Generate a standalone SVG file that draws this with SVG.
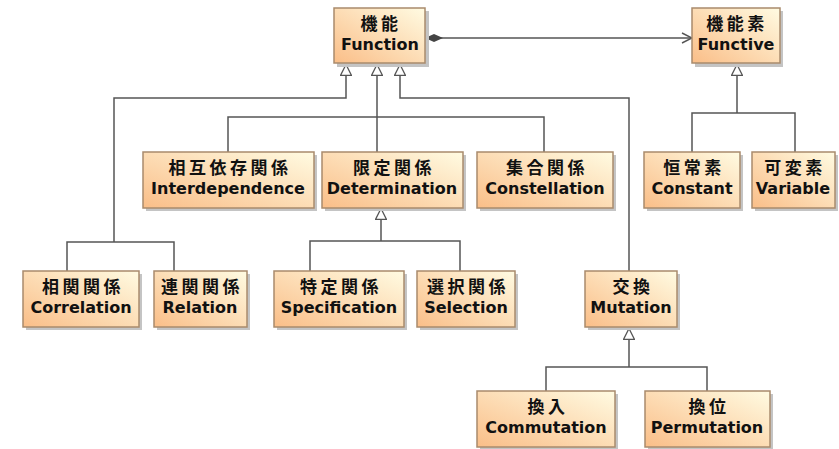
<svg xmlns="http://www.w3.org/2000/svg" width="839" height="449" viewBox="0 0 839 449">
<style>
.box{fill:url(#g);stroke:#A98B6C;stroke-width:1.5}
.sh{fill:#C4C4C4}
.cj{font-family:"Noto Sans CJK JP","Noto Sans CJK SC",sans-serif;font-weight:bold;font-size:17px;letter-spacing:3.5px;text-anchor:middle;fill:#111}
.en{font-family:"DejaVu Sans",sans-serif;font-weight:bold;font-size:16px;text-anchor:middle;fill:#111}
.ln{fill:none;stroke:#555;stroke-width:1.5}
.gen{marker-end:url(#tri)}
</style>
<defs>
<linearGradient id="g" x1="0" y1="1" x2="1" y2="0">
<stop offset="0" stop-color="#FABE88"/>
<stop offset="1" stop-color="#FFFBE2"/>
</linearGradient>
<marker id="tri" viewBox="0 0 12 12" refX="12" refY="6" markerWidth="12" markerHeight="12" markerUnits="userSpaceOnUse" orient="auto">
<path d="M0.5,0.5 L11.5,6 L0.5,11.5 z" fill="#fff" stroke="#555" stroke-width="1.3"/>
</marker>
<marker id="dia" viewBox="0 0 18 10" refX="0" refY="5" markerWidth="18" markerHeight="10" markerUnits="userSpaceOnUse" orient="auto">
<path d="M0,5 L9,1 L18,5 L9,9 z" fill="#444"/>
</marker>
<marker id="arr" viewBox="0 0 12 12" refX="11" refY="6" markerWidth="12" markerHeight="12" markerUnits="userSpaceOnUse" orient="auto">
<path d="M1,1 L11,6 L1,11" fill="none" stroke="#555" stroke-width="1.4"/>
</marker>
</defs>
<rect width="839" height="449" fill="#fff"/>
<g id="connectors">
<path class="ln gen" d="M114,242 V98 H346 V64"/>
<path class="ln" d="M67,271 V242 H174 V271"/>
<path class="ln gen" d="M377,152 V64"/>
<path class="ln" d="M228,152 V117 H544 V152"/>
<path class="ln gen" d="M629,271 V98 H400 V64"/>
<path class="ln gen" d="M737,113 V64"/>
<path class="ln" d="M692,152 V113 H795 V152"/>
<path class="ln gen" d="M381,241 V208"/>
<path class="ln" d="M310,271 V241 H460 V271"/>
<path class="ln gen" d="M629,367 V328"/>
<path class="ln" d="M546,391 V367 H707 V391"/>
<path class="ln" d="M425,38 H692" marker-start="url(#dia)" marker-end="url(#arr)"/>
</g>
<g id="function"><rect class="sh" x="337" y="11" width="92" height="56"/><rect class="box" x="334" y="8" width="91" height="55"/><text class="cj" x="381" y="30">機能</text><text class="en" x="380" y="50">Function</text></g>
<g id="functive"><rect class="sh" x="695" y="11" width="88" height="56"/><rect class="box" x="692" y="8" width="88" height="55"/><text class="cj" x="737" y="30">機能素</text><text class="en" x="736" y="50">Functive</text></g>
<g id="interdependence"><rect class="sh" x="146" y="155" width="171" height="56"/><rect class="box" x="143" y="152" width="171" height="56"/><text class="cj" x="230" y="174">相互依存関係</text><text class="en" x="228" y="194">Interdependence</text></g>
<g id="determination"><rect class="sh" x="325" y="155" width="141" height="56"/><rect class="box" x="322" y="152" width="141" height="56"/><text class="cj" x="394" y="174">限定関係</text><text class="en" x="392" y="194">Determination</text></g>
<g id="constellation"><rect class="sh" x="480" y="155" width="136" height="56"/><rect class="box" x="477" y="152" width="136" height="56"/><text class="cj" x="547" y="174">集合関係</text><text class="en" x="545" y="194">Constellation</text></g>
<g id="constant"><rect class="sh" x="647" y="155" width="96" height="56"/><rect class="box" x="644" y="152" width="96" height="56"/><text class="cj" x="694" y="174">恒常素</text><text class="en" x="692" y="194">Constant</text></g>
<g id="variable"><rect class="sh" x="755" y="155" width="83" height="56"/><rect class="box" x="752" y="152" width="83" height="56"/><text class="cj" x="795" y="174">可変素</text><text class="en" x="793" y="194">Variable</text></g>
<g id="correlation"><rect class="sh" x="26" y="274" width="116" height="56"/><rect class="box" x="23" y="271" width="116" height="56"/><text class="cj" x="83" y="293">相関関係</text><text class="en" x="81" y="313">Correlation</text></g>
<g id="relation"><rect class="sh" x="157" y="274" width="93" height="56"/><rect class="box" x="154" y="271" width="93" height="56"/><text class="cj" x="202" y="293">連関関係</text><text class="en" x="200" y="313">Relation</text></g>
<g id="specification"><rect class="sh" x="277" y="274" width="130" height="56"/><rect class="box" x="274" y="271" width="130" height="56"/><text class="cj" x="341" y="293">特定関係</text><text class="en" x="339" y="313">Specification</text></g>
<g id="selection"><rect class="sh" x="420" y="274" width="98" height="56"/><rect class="box" x="417" y="271" width="98" height="56"/><text class="cj" x="468" y="293">選択関係</text><text class="en" x="466" y="313">Selection</text></g>
<g id="mutation"><rect class="sh" x="588" y="274" width="92" height="56"/><rect class="box" x="585" y="271" width="92" height="56"/><text class="cj" x="633" y="293">交換</text><text class="en" x="631" y="313">Mutation</text></g>
<g id="commutation"><rect class="sh" x="480" y="394" width="138" height="56"/><rect class="box" x="477" y="391" width="138" height="56"/><text class="cj" x="548" y="413">換入</text><text class="en" x="546" y="433">Commutation</text></g>
<g id="permutation"><rect class="sh" x="648" y="394" width="125" height="56"/><rect class="box" x="645" y="391" width="125" height="56"/><text class="cj" x="709" y="413">換位</text><text class="en" x="707" y="433">Permutation</text></g>
</svg>
